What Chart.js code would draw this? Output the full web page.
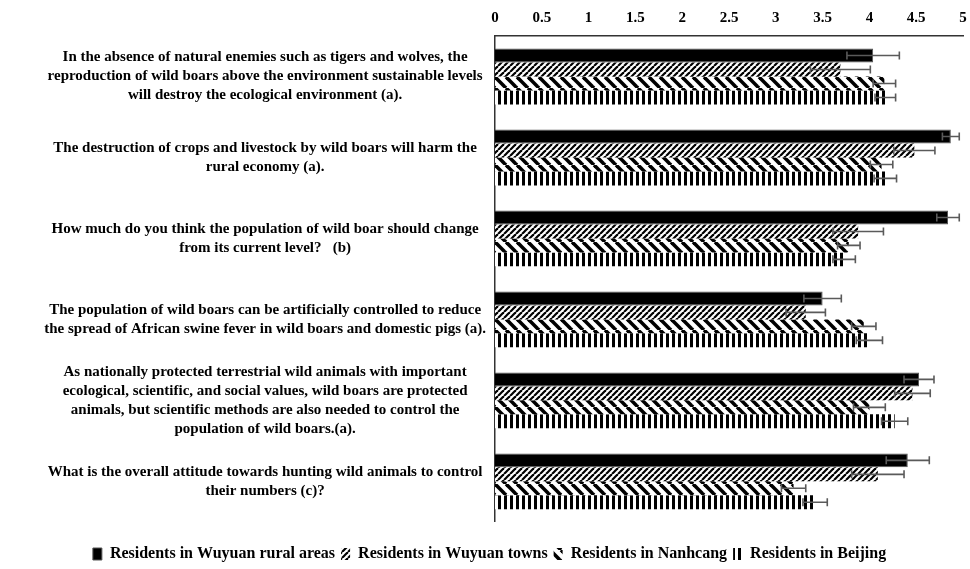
<!DOCTYPE html>
<html lang="en">
<head>
<meta charset="UTF-8">
<title>Wild boar attitudes</title>
<script src="https://cdn.jsdelivr.net/npm/chart.js"></script>
<style>
  body { margin: 0; background: #fff; }
  #wrap { width: 970px; height: 569px; }
</style>
</head>
<body>
<div id="wrap"><canvas id="grafica"></canvas></div>
<script>
    // Preguntas (cada una partida en líneas como en la figura)
    const preguntas = [
        ["In the absence of natural enemies such as tigers and wolves, the",
         "reproduction of wild boars above the environment sustainable levels",
         "will destroy the ecological environment (a)."],
        ["The destruction of crops and livestock by wild boars will harm the",
         "rural economy (a)."],
        ["How much do you think the population of wild boar should change",
         "from its current level?   (b)"],
        ["The population of wild boars can be artificially controlled to reduce",
         "the spread of African swine fever in wild boars and domestic pigs (a)."],
        ["As nationally protected terrestrial wild animals with important",
         "ecological, scientific, and social values, wild boars are protected",
         "animals, but scientific methods are also needed to control the",
         "population of wild boars.(a)."],
        ["What is the overall attitude towards hunting wild animals to control",
         "their numbers (c)?"]
    ];

    const grupos = ["Residents in Wuyuan rural areas", "Residents in Wuyuan towns",
                    "Residents in Nanhcang", "Residents in Beijing"];

    // medias
    const rural    = [4.04, 4.87, 4.84, 3.50, 4.53, 4.41];
    const pueblos  = [3.69, 4.48, 3.88, 3.32, 4.46, 4.09];
    const nanhcang = [4.16, 4.13, 3.78, 3.94, 4.00, 3.19];
    const beijing  = [4.17, 4.17, 3.73, 4.00, 4.27, 3.42];

    // errores (barras de error)
    const errRural    = [0.28, 0.09, 0.12, 0.20, 0.16, 0.23];
    const errPueblos  = [0.32, 0.22, 0.27, 0.21, 0.19, 0.28];
    const errNanhcang = [0.12, 0.12, 0.12, 0.13, 0.17, 0.13];
    const errBeijing  = [0.11, 0.12, 0.12, 0.14, 0.14, 0.13];

    const ticksX = [0, 0.5, 1, 1.5, 2, 2.5, 3, 3.5, 4, 4.5, 5];

    // patrones de relleno
    function patron(tam, dibujar) {
        const c = document.createElement('canvas');
        c.width = tam[0]; c.height = tam[1];
        const ctx = c.getContext('2d');
        ctx.fillStyle = '#fff';
        ctx.fillRect(0, 0, c.width, c.height);
        ctx.strokeStyle = '#000';
        ctx.fillStyle = '#000';
        dibujar(ctx, c.width, c.height);
        return document.createElement('canvas').getContext('2d').createPattern(c, 'repeat');
    }
    const pDiag = patron([6, 6], (ctx, w, h) => {
        ctx.lineWidth = 2.2;
        for (let k = -1; k <= 1; k++) {
            ctx.beginPath();
            ctx.moveTo(k * w, h); ctx.lineTo(k * w + w, 0);
            ctx.stroke();
        }
    });
    const pBack = patron([11, 11], (ctx, w, h) => {
        ctx.lineWidth = 3.6;
        for (let k = -1; k <= 1; k++) {
            ctx.beginPath();
            ctx.moveTo(k * w, 0); ctx.lineTo(k * w + w, h);
            ctx.stroke();
        }
    });
    const pVert = patron([6, 2], (ctx, w, h) => {
        ctx.fillRect(0, 0, 3, h);
    });

    const errores = [errRural, errPueblos, errNanhcang, errBeijing];

    const barrasError = {
        id: 'barrasError',
        afterDatasetsDraw(chart) {
            const ctx = chart.ctx;
            const x = chart.scales.x;
            ctx.save();
            ctx.strokeStyle = '#5a5a5a';
            ctx.lineWidth = 1.6;
            chart.data.datasets.forEach((ds, i) => {
                const meta = chart.getDatasetMeta(i);
                meta.data.forEach((bar, j) => {
                    const v = ds.data[j], e = errores[i][j];
                    const x1 = x.getPixelForValue(v - e);
                    const x2 = x.getPixelForValue(v + e);
                    const y = bar.y, c = 4;
                    ctx.beginPath();
                    ctx.moveTo(x1, y); ctx.lineTo(x2, y);
                    ctx.moveTo(x1, y - c); ctx.lineTo(x1, y + c);
                    ctx.moveTo(x2, y - c); ctx.lineTo(x2, y + c);
                    ctx.stroke();
                });
            });
            ctx.restore();
        }
    };

    const familia = "'Liberation Serif', 'Times New Roman', serif";
    const fuente = { family: familia, size: 15, weight: 'bold', lineHeight: 1.27 };

    new Chart(document.querySelector('#grafica'), {
        type: 'bar',
        data: {
            labels: preguntas,
            datasets: [
                { label: grupos[0], data: rural, backgroundColor: '#000', borderColor: '#555', borderWidth: 1 },
                { label: grupos[1], data: pueblos, backgroundColor: pDiag, borderWidth: 0 },
                { label: grupos[2], data: nanhcang, backgroundColor: pBack, borderWidth: 0 },
                { label: grupos[3], data: beijing, backgroundColor: pVert, borderWidth: 0 }
            ]
        },
        options: {
            indexAxis: 'y',
            responsive: true,
            maintainAspectRatio: false,
            animation: false,
            layout: { padding: { left: 9, right: 0, top: 0, bottom: -3 } },
            datasets: { bar: { barPercentage: 1, categoryPercentage: 0.69 } },
            scales: {
                x: {
                    position: 'top',
                    min: 0, max: 5,
                    afterBuildTicks: (s) => { s.ticks = ticksX.map(v => ({ value: v })); },
                    afterFit: (s) => { s.paddingLeft = 0; s.paddingRight = 7; },
                    grid: { display: false, drawTicks: false },
                    border: { color: '#333', width: 1.5 },
                    ticks: {
                        color: '#000', font: { family: familia, size: 15, weight: 'bold' },
                        padding: 9, maxRotation: 0,
                        callback: (v) => String(v)
                    }
                },
                y: {
                    afterFit: (s) => { s.width = 486; },
                    grid: { display: false, drawTicks: false },
                    border: { color: '#333', width: 1.5 },
                    ticks: { color: '#000', font: fuente, padding: 9, crossAlign: 'center', autoSkip: false }
                }
            },
            plugins: {
                tooltip: { enabled: false },
                legend: {
                    position: 'bottom',
                    title: { display: true, text: '', font: { size: 1 }, padding: { top: 9, bottom: 8 } },
                    labels: {
                        color: '#000', font: { family: familia, size: 16, weight: 'bold' },
                        boxWidth: 9, boxHeight: 12, padding: 6
                    }
                }
            }
        },
        plugins: [barrasError]
    });
</script>
</body>
</html>
